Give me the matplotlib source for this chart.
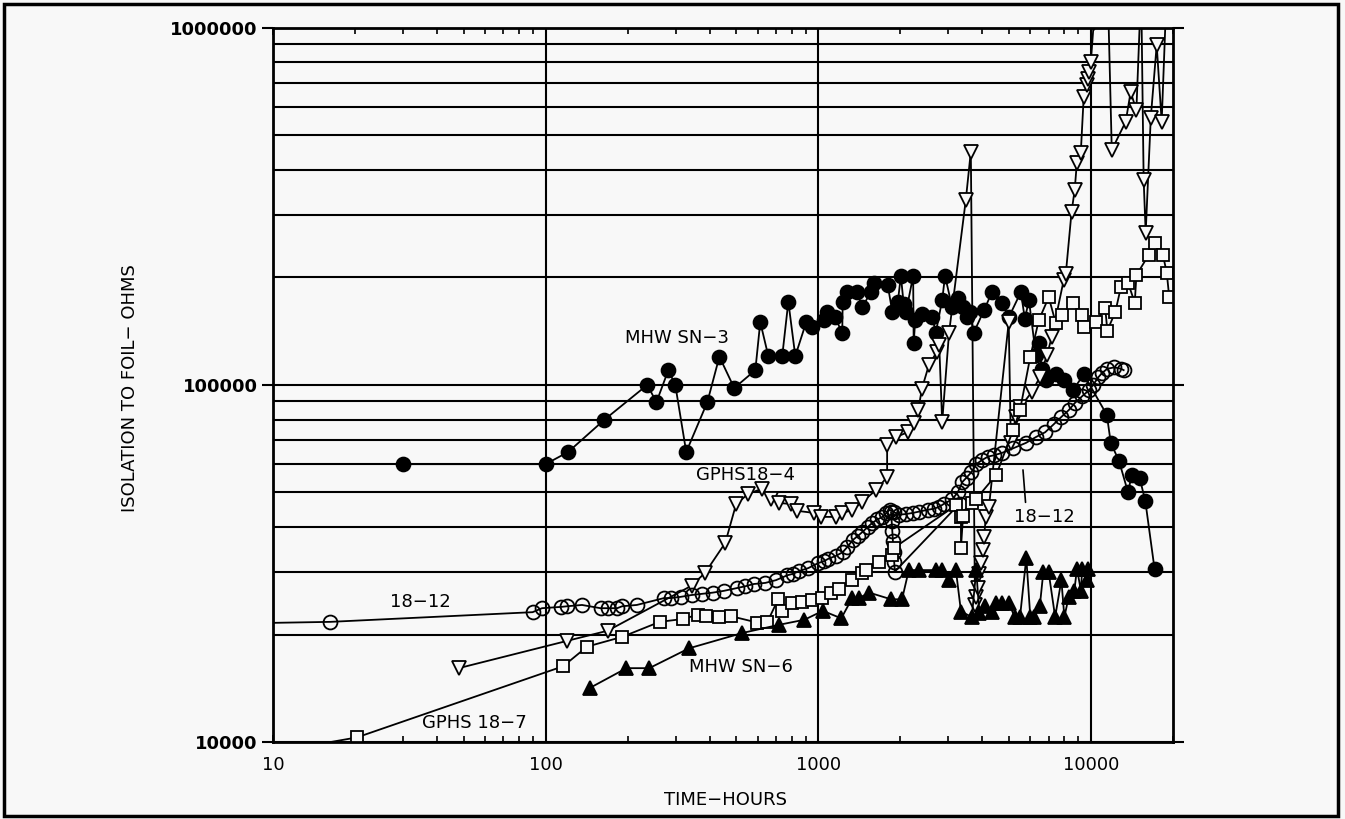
import matplotlib.pyplot as plt
from matplotlib.patches import Rectangle
from matplotlib.ticker import FuncFormatter, NullFormatter

# MHW SN-3 (filled circles)
sn3_t = [30, 100, 121, 164, 236, 255, 282, 299, 328, 392, 434, 492, 588, 613, 656, 738, 777, 824,
         904, 950, 1050, 1080, 1150, 1225, 1230, 1280, 1390, 1450, 1560, 1600, 1800, 1870, 1960, 2010,
         2060, 2100, 2230, 2240, 2270, 2400, 2620, 2700, 2850, 2920, 3100, 3250, 3400, 3500, 3600,
         3720, 4060, 4340, 4720, 5010, 5540, 5730, 5930, 6290, 6450, 6610, 6840, 7440, 7950, 8590,
         9420, 11450, 11840, 12700, 13700, 14130, 15100, 15850, 17140]
sn3_r = [60000, 60000, 64900, 79800, 100000, 89500, 110000, 100000, 64900, 89500, 120000, 98000,
         110000, 150000, 120500, 120500, 171000, 120500, 150000, 145000, 152000, 160000, 155000,
         140000, 171000, 182000, 182000, 165000, 182000, 193000, 190000, 160000, 171000, 202000,
         168000, 160000, 202000, 131000, 152000, 158000, 155000, 140000, 173000, 202000, 165000,
         175000, 165000, 155000, 160000, 140000, 162000, 182000, 170000, 155000, 182000, 153000,
         173000, 121000, 131000, 111000, 103000, 107000, 103000, 96500, 107000, 82500, 68800, 61200,
         50000, 56000, 55000, 47300, 30500]

# GPHS18-4 (open down triangles)
g184_t = [48, 120, 169, 343, 385, 456, 500, 555, 623, 673, 720, 796, 838, 967, 1025, 1164, 1224,
          1333, 1450, 1630, 1790, 1790, 1930, 2140, 2250, 2330, 2400, 2550, 2730, 2780, 2850, 3020,
          3480, 3630, 3760, 3800, 3850, 3900, 3960, 4020, 4060, 4120, 4230, 5000, 5090, 5300, 5500,
          6080, 6500, 6900, 7190, 7960, 8100, 8500, 8730, 8890, 9190, 9420, 9660, 9800, 9850, 10000,
          10250, 11600, 11940, 13430, 14000, 14700, 15300, 15630, 15900, 16600, 17450, 18200, 19000]
g184_r = [16100, 19200, 20500, 27400, 29800, 36100, 46400, 49600, 51200, 48000, 46700, 46400, 44400,
          43800, 42700, 42700, 43800, 44600, 47000, 50800, 55200, 67900, 71500, 73800, 78300, 85100,
          97500, 114000, 124000, 129000, 78700, 140000, 330000, 450000, 24200, 25500, 27000, 29500,
          31700, 34500, 37500, 42700, 45500, 150000, 68800, 81300, 86500, 95600, 105000, 121000,
          136000, 197000, 205000, 305000, 352000, 419000, 447000, 641000, 692000, 720000, 753000,
          800000, 1030000, 1100000, 455000, 546000, 661000, 589000, 1300000, 375000, 267000, 560000,
          895000, 546000, 1300000]

# 18-12 (open circles)
c1812_t = [8, 16.2, 89.6, 97, 114, 120, 136, 159, 170, 183, 191, 216, 272, 288, 313, 343, 375, 410,
           450, 505, 540, 580, 640, 700, 770, 810, 850, 920, 1000, 1050, 1090, 1160, 1230, 1280, 1340,
           1400, 1450, 1520, 1580, 1650, 1720, 1780, 1830, 1900, 1980, 2100, 2220, 2350, 2520, 2650,
           2770, 2900, 3100, 3250, 3380, 3500, 3650, 3800, 3990, 4200, 4400, 4720, 5200, 5780, 6300,
           6800, 7300, 7790, 8300, 8740, 9300, 9830, 10200, 10650, 11000, 11500, 12200, 12900, 13200]
c1812_r = [21500, 21700, 23100, 23700, 23900, 24000, 24200, 23700, 23700, 23700, 24000, 24200, 25300,
           25300, 25500, 25800, 26000, 26200, 26500, 27000, 27300, 27700, 27900, 28400, 29300, 29600,
           30100, 30700, 31700, 32100, 32600, 33200, 34000, 35200, 36800, 37800, 38700, 40000, 41100,
           42000, 42700, 43800, 44700, 44000, 43300, 43500, 43800, 44200, 44700, 45000, 45500, 46500,
           47800, 50000, 53500, 55000, 57000, 60000, 61600, 63000, 63500, 64500, 66500, 68800, 71500,
           73700, 77500, 81300, 85000, 89000, 93000, 96500, 100000, 105000, 108000, 111000, 112000,
           111000, 110000]
dip_t = [1850, 1860, 1870, 1880, 1890, 1900, 1910, 3300]
dip_r = [44000, 41500, 39000, 36500, 34000, 32000, 30000, 46500]

# GPHS 18-7 (open squares)
g187_t = [12, 20.3, 116, 142, 191, 262, 318, 361, 389, 431, 480, 598, 651, 713, 738, 803, 874, 950,
          1035, 1117, 1195, 1333, 1450, 1500, 1670, 1870, 1900, 3200, 3340, 3340, 3400, 3660, 3800,
          4500, 5200, 5500, 6000, 6450, 7010, 7440, 7850, 8600, 9280, 9420, 10430, 11300, 11500,
          12300, 12900, 13700, 14500, 14700, 16300, 17200, 18400, 19000, 19400]
g187_r = [9600, 10300, 16300, 18500, 19700, 21700, 22100, 22700, 22500, 22400, 22500, 21600, 21700,
          25100, 23300, 24500, 24700, 25000, 25300, 26200, 26800, 28400, 29700, 30300, 31900, 33400,
          35000, 46000, 42700, 35000, 43000, 46700, 48000, 56000, 75000, 85000, 120000, 152000,
          176000, 149000, 157000, 170000, 157000, 145000, 150000, 164000, 142000, 160000, 188000,
          193000, 170000, 203000, 231000, 250000, 231000, 206000, 176000]

# MHW SN-6 (filled up triangles)
sn6_t = [146, 198, 240, 336, 527, 720, 890, 1040, 1215, 1333, 1410, 1540, 1850, 2030, 2150, 2340,
         2700, 2850, 3020, 3200, 3340, 3660, 3800, 3900, 4100, 4340, 4500, 4720, 5000, 5260, 5500,
         5800, 6000, 6180, 6500, 6700, 7000, 7400, 7800, 8000, 8300, 8700, 8900, 9200, 9300, 9700,
         9800]
sn6_r = [14200, 16100, 16100, 18300, 20200, 21300, 22000, 23300, 22200, 25300, 25300, 26200, 25100,
         25100, 30300, 30300, 30300, 30300, 28400, 30300, 23200, 22400, 30300, 23000, 24000, 23200,
         24500, 24500, 24500, 22400, 22400, 32800, 22400, 22400, 24000, 30000, 30000, 22400, 28400,
         22400, 25500, 26500, 30600, 26500, 30600, 28400, 30600]

bg = '#f8f8f8'
fig = plt.figure(figsize=(13.45, 8.19), dpi=100)
fig.patch.set_facecolor(bg)
ax = fig.add_axes([0.203, 0.094, 0.669, 0.872])
ax.set_facecolor(bg)
ax.set_xscale('log')
ax.set_yscale('log')
ax.set_xlim(10, 20000)
ax.set_ylim(10000, 1000000)

ax.yaxis.grid(True, which='both', color='black', lw=1.5)
ax.xaxis.grid(True, which='major', color='black', lw=1.5)
ax.set_axisbelow(True)

line_kw = dict(color='black', lw=1.3, mew=1.3)
ax.plot(sn3_t, sn3_r, marker='o', ms=10, mfc='black', mec='black', **line_kw)
ax.plot(g184_t, g184_r, marker='v', ms=10, mfc=bg, mec='black', **line_kw)
ax.plot(c1812_t, c1812_r, marker='o', ms=10, mfc='none', mec='black', **line_kw)
ax.plot(dip_t, dip_r, marker='o', ms=10, mfc='none', mec='black', **line_kw)
ax.plot(g187_t, g187_r, marker='s', ms=8, mfc=bg, mec='black', **line_kw)
ax.plot(sn6_t, sn6_r, marker='^', ms=10, mfc='black', mec='black', **line_kw)

fmt = FuncFormatter(lambda v, p: f'{int(round(v))}')
ax.xaxis.set_major_formatter(fmt)
ax.yaxis.set_major_formatter(fmt)
ax.xaxis.set_minor_formatter(NullFormatter())
ax.yaxis.set_minor_formatter(NullFormatter())
ax.tick_params(axis='x', which='major', direction='in', length=5, width=1.2, pad=10,
               labelsize=13, top=True)
ax.tick_params(axis='x', which='minor', direction='in', length=4, width=1.2, top=True)
ax.tick_params(axis='y', which='major', direction='out', length=8, width=1.5, pad=3,
               labelsize=13, right=True)
ax.tick_params(axis='y', which='minor', length=0)
for lab in ax.get_yticklabels():
    lab.set_fontweight('bold')
for s in ax.spines.values():
    s.set_linewidth(2)

txt = dict(fontsize=13, ha='left', va='center')
ax.text(196, 135000, 'MHW SN\u22123', **txt)
ax.text(357, 56000, 'GPHS18\u22124', **txt)
ax.text(26.8, 24600, '18\u221212', **txt)
ax.text(35.1, 11300, 'GPHS 18\u22127', **txt)
ax.text(336, 16200, 'MHW SN\u22126', **txt)
ax.annotate('18\u221212', xy=(5640, 57800), xytext=(5220, 42700), fontsize=13, ha='left',
            va='center', arrowprops=dict(arrowstyle='-', lw=1.2, relpos=(0.2, 1.0),
                                         shrinkA=2, shrinkB=0))

fig.text(725 / 1345, 1 - 800 / 819, 'TIME\u2212HOURS', ha='center', va='center', fontsize=13)
fig.text(130 / 1345, 1 - 388 / 819, 'ISOLATION TO FOIL\u2212 OHMS', ha='center', va='center',
         rotation=90, fontsize=13)

fig.add_artist(Rectangle((4 / 1345, 3 / 819), 1334 / 1345, 812 / 819, transform=fig.transFigure,
                         fill=False, lw=2.5, ec='black'))

fig.savefig('out.png', dpi=100, facecolor=bg)
